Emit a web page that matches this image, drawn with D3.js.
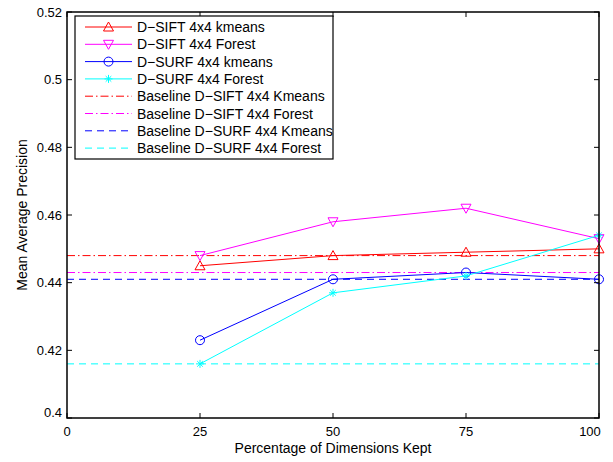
<!DOCTYPE html>
<html><head><meta charset="utf-8">
<script src="https://cdn.jsdelivr.net/npm/d3@7"></script>
<style>body{margin:0;background:#fff}svg{display:block}text{font-family:"Liberation Sans",Arial,sans-serif}</style>
</head><body>
<script>
const xValues = [25, 50, 75, 100];
const siftKmeans = [0.445, 0.448, 0.449, 0.450];
const siftForest = [0.448, 0.458, 0.462, 0.453];
const surfKmeans = [0.423, 0.441, 0.443, 0.441];
const surfForest = [0.416, 0.437, 0.442, 0.454];
const baselineNames = ["Baseline D\u2212SIFT 4x4 Kmeans","Baseline D\u2212SIFT 4x4 Forest","Baseline D\u2212SURF 4x4 Kmeans","Baseline D\u2212SURF 4x4 Forest"];
const baselineValues = [0.448, 0.443, 0.441, 0.416];
const xTicks = [0, 25, 50, 75, 100];
const yTicks = [0.4, 0.42, 0.44, 0.46, 0.48, 0.5, 0.52];

const W = 613, H = 462;
const m = {l: 67, r: 14, t: 12, b: 44};
const svg = d3.select("body").append("svg").attr("width", W).attr("height", H);
const x = d3.scaleLinear().domain([0, 100]).range([m.l, W - m.r]);
const y = d3.scaleLinear().domain([0.4, 0.52]).range([H - m.b, m.t]);

const series = [
  {name: "D\u2212SIFT 4x4 kmeans", vals: siftKmeans, color: "#ff0000", marker: "up"},
  {name: "D\u2212SIFT 4x4 Forest", vals: siftForest, color: "#ff00ff", marker: "down"},
  {name: "D\u2212SURF 4x4 kmeans", vals: surfKmeans, color: "#0000ff", marker: "circle"},
  {name: "D\u2212SURF 4x4 Forest", vals: surfForest, color: "#00ffff", marker: "star"}
];
const baselines = baselineNames.map((n, i) => ({
  name: n, val: baselineValues[i],
  color: ["#ff0000", "#ff00ff", "#0000ff", "#00ffff"][i],
  dash: i < 2 ? "8,3,1.5,3" : "7,5"
}));

baselines.forEach(b => {
  svg.append("line").attr("x1", x(0)).attr("x2", x(100)).attr("y1", y(b.val)).attr("y2", y(b.val))
    .attr("stroke", b.color).attr("stroke-width", 1).attr("stroke-dasharray", b.dash);
});

function drawMarker(g, type, cx, cy, color) {
  if (type === "up") {
    g.append("path").attr("d", `M${cx},${cy-5}L${cx+5},${cy+4}L${cx-5},${cy+4}Z`).attr("fill", "none").attr("stroke", color).attr("stroke-width", 1);
  } else if (type === "down") {
    g.append("path").attr("d", `M${cx},${cy+5}L${cx+5},${cy-4}L${cx-5},${cy-4}Z`).attr("fill", "none").attr("stroke", color).attr("stroke-width", 1);
  } else if (type === "circle") {
    g.append("circle").attr("cx", cx).attr("cy", cy).attr("r", 4.5).attr("fill", "none").attr("stroke", color).attr("stroke-width", 1);
  } else {
    const r = 4;
    let d = `M${cx-r},${cy}L${cx+r},${cy}M${cx},${cy-r}L${cx},${cy+r}`;
    const q = r * 0.7;
    d += `M${cx-q},${cy-q}L${cx+q},${cy+q}M${cx-q},${cy+q}L${cx+q},${cy-q}`;
    g.append("path").attr("d", d).attr("stroke", color).attr("stroke-width", 1).attr("fill", "none");
  }
}

const line = d3.line().x(d => x(d[0])).y(d => y(d[1]));
series.forEach(s => {
  const pts = xValues.map((v, i) => [v, s.vals[i]]);
  svg.append("path").attr("d", line(pts)).attr("fill", "none").attr("stroke", s.color).attr("stroke-width", 1);
  const g = svg.append("g");
  pts.forEach(p => drawMarker(g, s.marker, x(p[0]), y(p[1]), s.color));
});

const ax = svg.append("g");
ax.append("rect").attr("x", x(0)).attr("y", y(0.52)).attr("width", x(100) - x(0)).attr("height", y(0.4) - y(0.52))
  .attr("fill", "none").attr("stroke", "#000").attr("stroke-width", 1.5);
const tl = 5;
xTicks.forEach(t => {
  ax.append("line").attr("x1", x(t)).attr("x2", x(t)).attr("y1", y(0.4)).attr("y2", y(0.4) - tl).attr("stroke", "#000");
  ax.append("line").attr("x1", x(t)).attr("x2", x(t)).attr("y1", y(0.52)).attr("y2", y(0.52) + tl).attr("stroke", "#000");
  ax.append("text").attr("x", t === 100 ? x(t) - 9 : x(t)).attr("y", y(0.4) + 18).attr("text-anchor", "middle").attr("font-size", 13).text(d3.format("d")(t));
});
yTicks.forEach(t => {
  ax.append("line").attr("x1", x(0)).attr("x2", x(0) + tl).attr("y1", y(t)).attr("y2", y(t)).attr("stroke", "#000");
  ax.append("line").attr("x1", x(100)).attr("x2", x(100) - tl).attr("y1", y(t)).attr("y2", y(t)).attr("stroke", "#000");
  ax.append("text").attr("x", x(0) - 5).attr("y", t === 0.4 ? y(t) - 1 : y(t) + 4.5).attr("text-anchor", "end").attr("font-size", 13).text(String(+t.toFixed(2)));
});
svg.append("text").attr("x", (x(0) + x(100)) / 2).attr("y", 453).attr("text-anchor", "middle").attr("font-size", 14)
  .text("Percentage of Dimensions Kept");
svg.append("text").attr("transform", `translate(27,${(y(0.4) + y(0.52)) / 2}) rotate(-90)`).attr("text-anchor", "middle").attr("font-size", 14)
  .text("Mean Average Precision");

const lg = svg.append("g");
lg.append("rect").attr("x", 75).attr("y", 16).attr("width", 258).attr("height", 143).attr("fill", "#fff").attr("stroke", "#000").attr("stroke-width", 1.2);
const items = series.map(s => ({name: s.name, color: s.color, marker: s.marker, dash: null}))
  .concat(baselines.map(b => ({name: b.name, color: b.color, marker: null, dash: b.dash})));
items.forEach((it, i) => {
  const yy = 27 + i * 17.3;
  lg.append("line").attr("x1", 85).attr("x2", 132).attr("y1", yy).attr("y2", yy).attr("stroke", it.color).attr("stroke-width", 1)
    .attr("stroke-dasharray", it.dash);
  if (it.marker) drawMarker(lg, it.marker, 108.5, yy, it.color);
  lg.append("text").attr("x", 137).attr("y", yy + 5).attr("font-size", 14).text(it.name);
});
</script>
</body></html>
